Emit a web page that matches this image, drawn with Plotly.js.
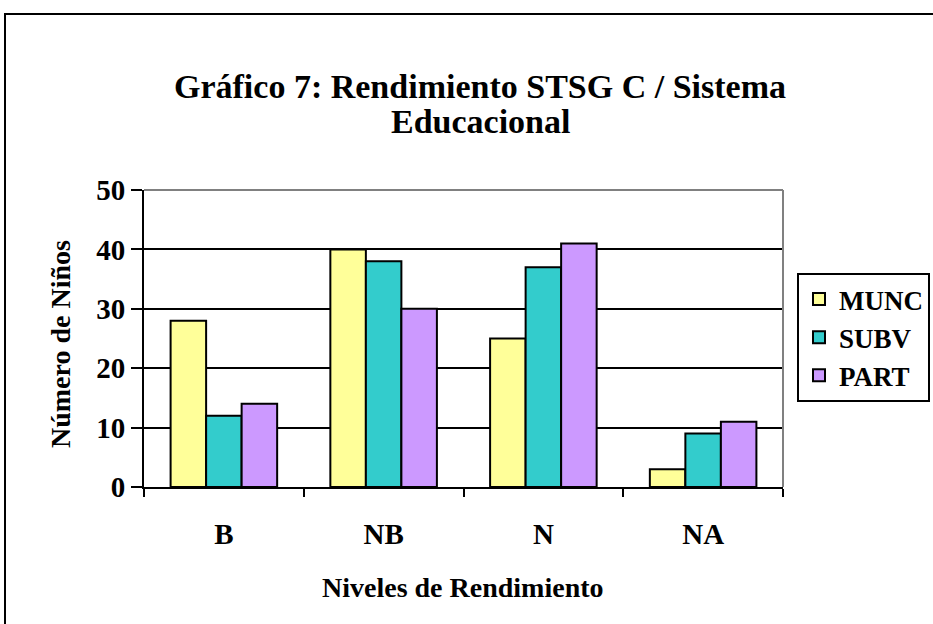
<!DOCTYPE html>
<html>
<head>
<meta charset="utf-8">
<script src="https://cdn.plot.ly/plotly-3.0.1.min.js"></script>
<style>
html,body{margin:0;padding:0;background:#fff;}
#chart{width:933px;height:624px;}
</style>
</head>
<body>
<div id="chart"></div>
<script>
const categories = ["B", "NB", "N", "NA"];
const seriesNames = ["MUNC", "SUBV", "PART"];
const munc = [28, 40, 25, 3];
const subv = [12, 38, 37, 9];
const part = [14, 30, 41, 11];
const yTicks = [0, 10, 20, 30, 40, 50];
const titleLine1 = "Gráfico 7: Rendimiento STSG C / Sistema";
const titleLine2 = "Educacional";
const xTitle = "Niveles de Rendimiento";
const yTitle = "Número de Niños";

const colors = ["#FFFF99", "#33CCCC", "#CC99FF"];
const FONT = "Liberation Serif, Times New Roman, serif";

const values = [munc, subv, part];
const traces = values.map((v, i) => ({
  type: "bar",
  name: seriesNames[i],
  x: categories,
  y: v,
  marker: {color: colors[i], line: {color: "#000", width: 2}},
  hoverinfo: "skip"
}));

const layout = {
  width: 933, height: 624,
  margin: {l: 144, r: 150, t: 190, b: 137, pad: 0, autoexpand: false},
  paper_bgcolor: "#fff", plot_bgcolor: "#fff",
  font: {family: FONT, size: 29, color: "#000", weight: "bold"},
  barmode: "group",
  bargap: 0.333,
  bargroupgap: 0,
  showlegend: true,
  legend: {
    x: (797 - 144) / 639, xanchor: "left", y: (487 - 337.5) / 297, yanchor: "middle",
    bordercolor: "#000", borderwidth: 2, bgcolor: "#fff",
    font: {family: FONT, size: 27, weight: "bold", color: "#000"},
    itemwidth: 30, tracegroupgap: 0
  },
  xaxis: {
    type: "category",
    tickson: "boundaries",
    ticks: "outside", ticklen: 8, tickwidth: 2, tickcolor: "#000",
    showline: true, linecolor: "#000", linewidth: 2,
    showgrid: false, zeroline: false,
    ticklabelstandoff: 20,
    tickfont: {family: FONT, size: 29, weight: "bold"},
    fixedrange: true
  },
  yaxis: {
    range: [0, 50],
    tickvals: yTicks,
    ticktext: yTicks.map(String),
    ticks: "outside", ticklen: 11, tickwidth: 2, tickcolor: "#000",
    showline: true, linecolor: "#000", linewidth: 2,
    showgrid: true, gridcolor: "#000", gridwidth: 2,
    zeroline: false,
    tickfont: {family: FONT, size: 29, weight: "bold"},
    fixedrange: true
  },
  shapes: [
    {type: "line", xref: "paper", yref: "paper", x0: 0, x1: 1, y0: 1, y1: 1,
     line: {color: "#808080", width: 2}, layer: "above"},
    {type: "line", xref: "paper", yref: "paper", x0: 1, x1: 1, y0: 0, y1: 1,
     line: {color: "#808080", width: 2}, layer: "above"},
    {type: "rect", xref: "paper", yref: "paper",
     x0: (5 - 144) / 639, x1: (960 - 144) / 639,
     y0: (487 - 660) / 297, y1: (487 - 14) / 297,
     line: {color: "#000", width: 2}, fillcolor: "rgba(0,0,0,0)", layer: "above"}
  ],
  annotations: [
    {text: titleLine1, xref: "paper", yref: "paper",
     x: (480 - 144) / 639, y: (487 - 86) / 297, xanchor: "center", yanchor: "middle",
     showarrow: false, font: {family: FONT, size: 34, weight: "bold"}},
    {text: titleLine2, xref: "paper", yref: "paper",
     x: (480 - 144) / 639, y: (487 - 122) / 297, xanchor: "center", yanchor: "middle",
     showarrow: false, font: {family: FONT, size: 34, weight: "bold"}},
    {text: xTitle, xref: "paper", yref: "paper",
     x: (463 - 144) / 639, y: (487 - 587) / 297, xanchor: "center", yanchor: "middle",
     showarrow: false, font: {family: FONT, size: 28, weight: "bold"}},
    {text: yTitle, xref: "paper", yref: "paper", textangle: -90,
     x: (60 - 144) / 639, y: (487 - 344) / 297, xanchor: "center", yanchor: "middle",
     showarrow: false, font: {family: FONT, size: 28, weight: "bold"}}
  ]
};

Plotly.newPlot("chart", traces, layout, {displayModeBar: false, staticPlot: true});
</script>
</body>
</html>
